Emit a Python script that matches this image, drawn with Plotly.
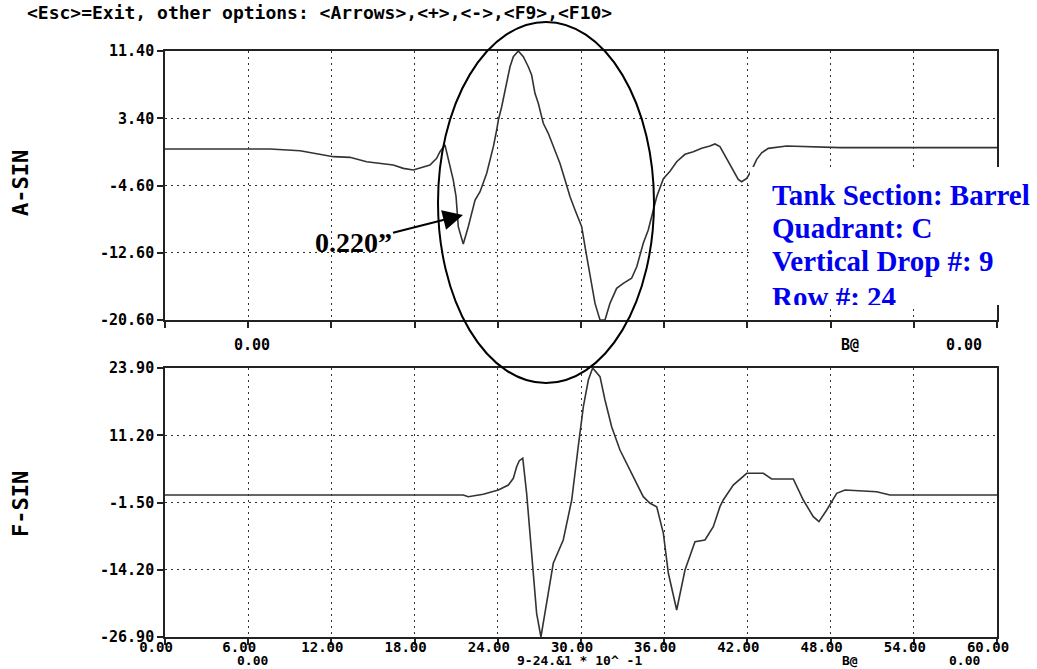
import plotly.graph_objects as go

# ---- signal data -------------------------------------------------------
a_sin_x = [0.0, 7.57, 9.74, 10.70, 12.14, 13.34, 14.54, 16.46, 17.19, 17.91,
           18.63, 19.11, 19.59, 19.83, 20.19, 20.55, 20.79, 20.99, 21.15, 21.51,
           21.87, 22.36, 22.72, 23.20, 23.68, 23.92, 24.04, 24.28, 24.40, 24.64,
           24.88, 25.12, 25.48, 25.84, 26.20, 26.44, 26.68, 26.92, 27.28, 27.64,
           28.00, 28.48, 28.85, 29.21, 29.57, 29.93, 30.05, 30.29, 30.65, 31.01,
           31.37, 31.73, 32.09, 32.57, 33.05, 33.65, 34.02, 34.49, 34.85, 35.10,
           35.46, 35.94, 36.42, 36.90, 37.50, 38.10, 38.70, 39.30, 39.66, 40.02,
           40.50, 40.98, 41.34, 41.58, 41.95, 42.31, 42.67, 43.03, 43.51, 44.83,
           47.23, 48.67, 60.0]
a_sin_y = [-0.26, -0.26, -0.46, -0.77, -1.17, -1.25, -1.77, -2.16, -2.56, -2.76,
           -2.36, -2.16, -1.37, -0.58, 0.22, -2.36, -3.95, -5.93, -9.50, -11.56,
           -9.50, -6.33, -5.34, -3.15, 0.02, 2.00, 3.19, 4.77, 5.77, 7.95,
           9.53, 10.72, 11.40, 10.72, 9.53, 8.54, 6.37, 5.18, 2.80, 1.61,
           0.02, -1.96, -3.95, -5.93, -7.51, -8.91, -9.50, -11.88, -15.05, -18.62,
           -20.60, -20.60, -18.62, -16.83, -16.24, -15.64, -14.26, -11.48, -9.89, -8.31,
           -5.93, -3.80, -2.90, -1.77, -0.89, -0.58, -0.18, 0.10, 0.34, 0.02,
           -1.37, -2.76, -3.87, -4.15, -3.75, -2.76, -1.49, -0.70, -0.18, 0.10,
           0.02, -0.10, -0.10]

f_sin_x = [0.0, 21.51, 21.87, 22.95, 24.04, 24.76, 25.12, 25.36, 25.55, 25.80,
           26.08, 26.44, 26.80, 27.11, 27.40, 27.76, 28.00, 28.72, 29.33, 29.80,
           30.17, 30.53, 30.84, 31.37, 31.73, 32.21, 32.81, 33.65, 34.49, 34.98,
           35.46, 35.94, 36.30, 36.90, 37.50, 38.22, 38.94, 39.54, 40.02, 40.26,
           40.98, 41.95, 43.15, 43.75, 45.31, 46.03, 46.75, 47.16, 47.72, 48.44,
           49.04, 51.32, 52.28, 60.0]
f_sin_y = [-0.08, -0.08, -0.40, 0.05, 0.86, 1.80, 3.07, 5.26, 6.40, 6.85,
           0.24, -10.47, -22.42, -26.90, -22.42, -16.14, -12.98, -8.58, -1.03, 9.04,
           16.59, 21.63, 23.90, 22.26, 17.86, 12.82, 8.41, 4.01, -0.40, -1.65,
           -2.29, -7.32, -14.87, -21.80, -14.25, -8.90, -8.58, -6.07, -2.29, -1.03,
           1.80, 4.01, 4.01, 2.94, 2.94, -1.03, -4.18, -5.12, -2.92, 0.24,
           0.86, 0.54, -0.08, -0.08]

# ---- axis scales -------------------------------------------------------
x_ticks = [0, 6, 12, 18, 24, 30, 36, 42, 48, 54, 60]
a_ticks = [11.40, 3.40, -4.60, -12.60, -20.60]
f_ticks = [23.90, 11.20, -1.50, -14.20, -26.90]

header_text = "&lt;Esc&gt;=Exit, other options: &lt;Arrows&gt;,&lt;+&gt;,&lt;-&gt;,&lt;F9&gt;,&lt;F10&gt;"
info_lines = ["Tank Section: Barrel", "Quadrant: C", "Vertical Drop #: 9", "Row #: 24"]
flaw_label = "0.220\u201d"
scale_label = "9-24.&1 * 10^ -1"

# ---- page geometry (pixels) ---------------------------------------------
W, H = 1037, 669
ML, MR, MT, MB = 165, 40, 51, 32
PW, PH = W - ML - MR, H - MT - MB


def px(xp):
    return (xp - ML) / PW


def py(yp):
    return (H - MB - yp) / PH


MONO = "DejaVu Sans Mono"
SERIF = "Liberation Serif"
INK = "#222222"

fig = go.Figure()
fig.add_trace(go.Scatter(x=a_sin_x, y=a_sin_y, mode="lines",
                         line=dict(color="#333333", width=1.6),
                         xaxis="x", yaxis="y", showlegend=False))
fig.add_trace(go.Scatter(x=f_sin_x, y=f_sin_y, mode="lines",
                         line=dict(color="#333333", width=1.6),
                         xaxis="x2", yaxis="y2", showlegend=False))


def mono_b(s):
    return dict(family=MONO, size=s, color="black", weight="bold")


common_x = dict(range=[0, 60], tickvals=x_ticks, ticktext=[f"{v:.2f}" for v in x_ticks],
                showline=True, linecolor=INK, linewidth=1.6, mirror=True,
                ticks="outside", ticklen=6, tickwidth=1.5, tickcolor=INK,
                showgrid=True, gridcolor="#333333", gridwidth=1.2, griddash="2px,4px",
                zeroline=False, tickfont=mono_b(14))
common_y = dict(showline=True, linecolor=INK, linewidth=1.6, mirror=True,
                ticks="outside", ticklen=6, tickwidth=1.5, tickcolor=INK,
                showgrid=True, gridcolor="#333333", gridwidth=1.2, griddash="2px,4px",
                zeroline=False, tickfont=mono_b(15))

top_lo = py(320)
bot_hi = py(368)

fig.update_layout(
    width=W, height=H, autosize=False,
    margin=dict(l=ML, r=MR, t=MT, b=MB, pad=0),
    paper_bgcolor="white", plot_bgcolor="white",
    xaxis=dict(common_x, anchor="y", showticklabels=False),
    yaxis=dict(common_y, anchor="x", domain=[top_lo, 1.0], range=[-20.6, 11.4],
               tickvals=a_ticks, ticktext=[f"{v:.2f}" for v in a_ticks]),
    xaxis2=dict(common_x, anchor="y2", ticklabelshift=-9, ticklabelstandoff=-10),
    yaxis2=dict(common_y, anchor="x2", domain=[0.0, bot_hi], range=[-26.9, 23.9],
                tickvals=f_ticks, ticktext=[f"{v:.2f}" for v in f_ticks]),
)

# white panel behind the inspection notes
fig.add_shape(type="rect", xref="paper", yref="paper",
              x0=px(750), x1=px(1037), y0=py(305), y1=py(167),
              fillcolor="white", line=dict(width=0), layer="above")

# ellipse marking the indication
fig.add_shape(type="circle", xref="paper", yref="paper",
              x0=px(438), x1=px(654), y0=py(383), y1=py(22),
              line=dict(color="black", width=2), layer="above")

ann = []
ann.append(dict(text=header_text, x=px(25), y=py(12), xanchor="left", yanchor="middle",
                font=mono_b(18)))
ann.append(dict(text="A-SIN", x=px(20), y=py(183), textangle=-90,
                xanchor="center", yanchor="middle", font=mono_b(22)))
ann.append(dict(text="F-SIN", x=px(20), y=py(504), textangle=-90,
                xanchor="center", yanchor="middle", font=mono_b(22)))

for label, xc, yc in [("0.00", 252, 345), ("B@", 850, 345), ("0.00", 964, 345)]:
    ann.append(dict(text=label, x=px(xc), y=py(yc), xanchor="center", yanchor="middle",
                    font=mono_b(15)))
for label, xc in [("0.00", 252), (scale_label, 579), ("B@", 850), ("0.00", 964)]:
    ann.append(dict(text=label, x=px(xc), y=py(668), xanchor="center", yanchor="bottom",
                    font=mono_b(13), borderpad=0, borderwidth=0))

# flaw depth call-out with arrow
ann.append(dict(text=flaw_label, x=px(463), y=py(215), ax=-110, ay=28,
                showarrow=True, arrowhead=2, arrowsize=2, arrowwidth=2, arrowcolor="black",
                font=dict(family=SERIF, size=28, color="black", weight="bold")))

blue = dict(family=SERIF, size=29, color="#0000f0", weight="bold")
for line, yc in zip(info_lines[:3], [195, 228, 261]):
    ann.append(dict(text=line, x=px(770), y=py(yc), xanchor="left", yanchor="middle",
                    font=blue))
# last line is cut off by the panel edge
ann.append(dict(text=info_lines[3], x=px(770), y=py(279), xanchor="left", yanchor="top",
                valign="top", height=24, font=blue))

for a in ann:
    a.setdefault("xref", "paper")
    a.setdefault("yref", "paper")
    a.setdefault("showarrow", False)
fig.update_layout(annotations=ann)

fig.write_html("out.html")
